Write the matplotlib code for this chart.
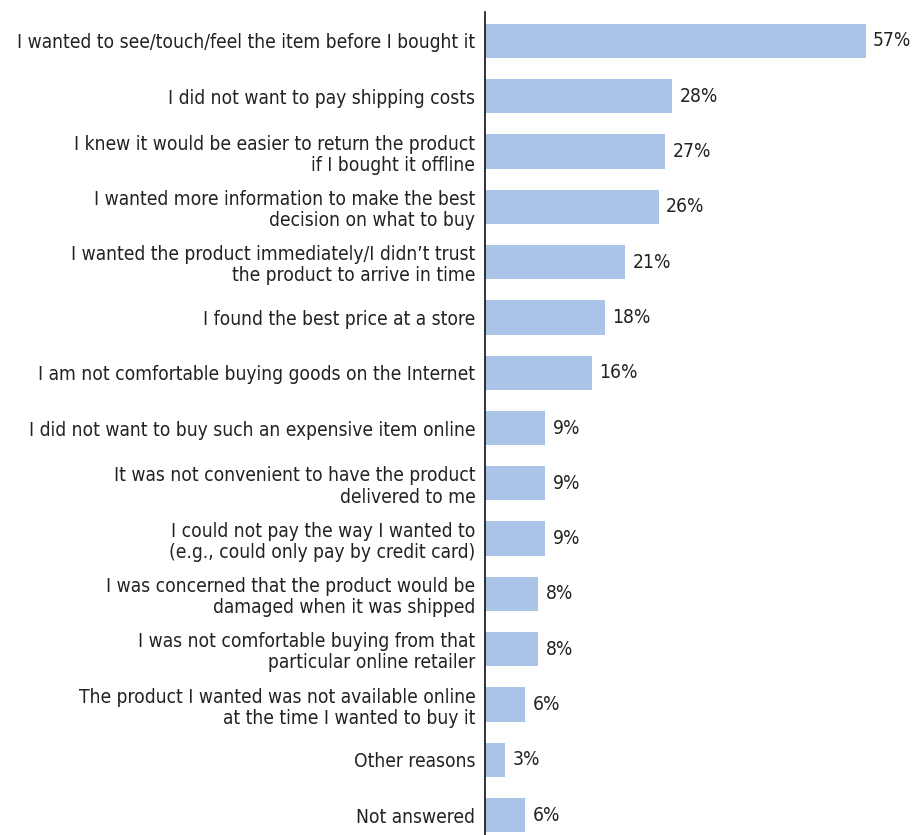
import matplotlib.pyplot as plt

reasons = [
    "I wanted to see/touch/feel the item before I bought it",
    "I did not want to pay shipping costs",
    "I knew it would be easier to return the product\nif I bought it offline",
    "I wanted more information to make the best\ndecision on what to buy",
    "I wanted the product immediately/I didn\u2019t trust\nthe product to arrive in time",
    "I found the best price at a store",
    "I am not comfortable buying goods on the Internet",
    "I did not want to buy such an expensive item online",
    "It was not convenient to have the product\ndelivered to me",
    "I could not pay the way I wanted to\n(e.g., could only pay by credit card)",
    "I was concerned that the product would be\ndamaged when it was shipped",
    "I was not comfortable buying from that\nparticular online retailer",
    "The product I wanted was not available online\nat the time I wanted to buy it",
    "Other reasons",
    "Not answered",
]
shares = [57, 28, 27, 26, 21, 18, 16, 9, 9, 9, 8, 8, 6, 3, 6]

plt.rcParams['font.family'] = ['DejaVu Sans']
plt.rcParams['font.stretch'] = 'condensed'

fig = plt.figure(figsize=(9.13, 8.35), dpi=100)
ax = fig.add_axes([485 / 913, 0, 427.5 / 913, 823 / 835])

pos = list(range(len(shares)))
ax.barh(pos, shares, height=0.62, color='#a9c4e7')
for y, v in zip(pos, shares):
    ax.text(v + 1.1, y, f'{v}%', va='center', ha='left', fontsize=13.8,
            color='#222222', stretch='condensed')

ax.set_xlim(0, 64)
ax.set_ylim(14.36, -0.524)
ax.set_yticks(pos)
ax.set_yticklabels(reasons, fontsize=13.8, color='#222222', linespacing=1.15,
                   stretch='condensed')
ax.tick_params(axis='y', length=0, pad=7)
ax.xaxis.set_visible(False)
for side in ('top', 'right', 'bottom'):
    ax.spines[side].set_visible(False)
ax.spines['left'].set_color('#111111')
ax.spines['left'].set_linewidth(1.2)

fig.savefig('out.png', dpi=100)
